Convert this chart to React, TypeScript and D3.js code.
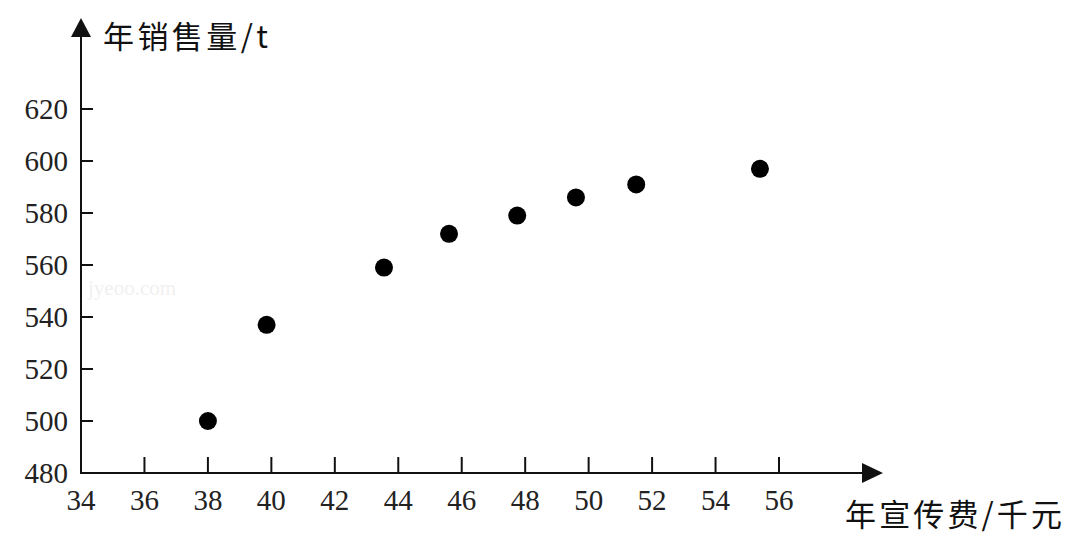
import React, { useEffect, useRef } from 'react';
import * as d3 from 'd3';

// values
const adCost = [38, 39.85, 43.55, 45.6, 47.75, 49.6, 51.5, 55.4];
const sales = [500, 537, 559, 572, 579, 586, 591, 597];
const xTicks = [34, 36, 38, 40, 42, 44, 46, 48, 50, 52, 54, 56];
const yTicks = [480, 500, 520, 540, 560, 580, 600, 620];
const xTitle = '年宣传费/千元';
const yTitle = '年销售量/t';

const App = () => {
  const svgRef = useRef<SVGSVGElement>(null);

  useEffect(() => {
    const width = 1084;
    const height = 545;
    const origin = { x: 81, y: 473 };

    const svg = d3.select(svgRef.current);
    svg.selectAll('*').remove();
    svg.attr('width', width).attr('height', height);

    svg.append('rect').attr('width', width).attr('height', height).attr('fill', '#fff');

    const x = d3.scaleLinear().domain([34, 56]).range([origin.x, 779]);
    const y = d3.scaleLinear().domain([480, 620]).range([origin.y, 109]);

    // faint watermark
    svg
      .append('text')
      .attr('x', 88)
      .attr('y', 295)
      .attr('font-family', '"Liberation Serif", serif')
      .attr('font-size', '21px')
      .attr('fill', '#f0f0f0')
      .text('jyeoo.com');

    const axisColor = '#111';

    // y axis line + arrow
    svg
      .append('line')
      .attr('x1', origin.x)
      .attr('x2', origin.x)
      .attr('y1', origin.y + 1)
      .attr('y2', 30)
      .attr('stroke', axisColor)
      .attr('stroke-width', 2);
    svg
      .append('path')
      .attr('d', `M${origin.x},18 L${origin.x - 10},37 L${origin.x + 10},37 Z`)
      .attr('fill', axisColor);

    // x axis line + arrow
    svg
      .append('line')
      .attr('x1', origin.x - 1)
      .attr('x2', 870)
      .attr('y1', origin.y)
      .attr('y2', origin.y)
      .attr('stroke', axisColor)
      .attr('stroke-width', 2);
    svg
      .append('path')
      .attr('d', `M883,${origin.y} L862,${origin.y - 10} L862,${origin.y + 10} Z`)
      .attr('fill', axisColor);

    // x ticks
    const xg = svg.append('g');
    xg.selectAll('line')
      .data(xTicks.filter((d) => d !== 34))
      .enter()
      .append('line')
      .attr('x1', (d) => x(d))
      .attr('x2', (d) => x(d))
      .attr('y1', origin.y)
      .attr('y2', origin.y - 16)
      .attr('stroke', axisColor)
      .attr('stroke-width', 2);
    xg.selectAll('text')
      .data(xTicks)
      .enter()
      .append('text')
      .attr('x', (d) => x(d))
      .attr('y', 510)
      .attr('text-anchor', 'middle')
      .attr('font-family', '"Liberation Serif", "Times New Roman", serif')
      .attr('font-size', '29px')
      .attr('fill', '#222')
      .text((d) => d);

    // y ticks
    const yg = svg.append('g');
    yg.selectAll('line')
      .data(yTicks.filter((d) => d !== 480))
      .enter()
      .append('line')
      .attr('x1', origin.x)
      .attr('x2', origin.x + 12)
      .attr('y1', (d) => y(d))
      .attr('y2', (d) => y(d))
      .attr('stroke', axisColor)
      .attr('stroke-width', 2);
    yg.selectAll('text')
      .data(yTicks)
      .enter()
      .append('text')
      .attr('x', 68)
      .attr('y', (d) => y(d) + 10)
      .attr('text-anchor', 'end')
      .attr('font-family', '"Liberation Serif", "Times New Roman", serif')
      .attr('font-size', '29px')
      .attr('fill', '#222')
      .text((d) => d);

    // axis titles
    svg
      .append('text')
      .attr('x', 103)
      .attr('y', 48)
      .attr('font-family', '"Noto Sans CJK SC", sans-serif')
      .attr('font-size', '31px')
      .attr('fill', '#111')
      .attr('textLength', 165)
      .attr('lengthAdjust', 'spacing')
      .text(yTitle);
    svg
      .append('text')
      .attr('x', 845)
      .attr('y', 526)
      .attr('font-family', '"Noto Sans CJK SC", sans-serif')
      .attr('font-size', '31px')
      .attr('fill', '#111')
      .attr('textLength', 217)
      .attr('lengthAdjust', 'spacing')
      .text(xTitle);

    // points
    svg
      .append('g')
      .selectAll('circle')
      .data(adCost.map((c, i) => ({ c, s: sales[i] })))
      .enter()
      .append('circle')
      .attr('cx', (d) => x(d.c))
      .attr('cy', (d) => y(d.s))
      .attr('r', 9)
      .attr('fill', '#000');
  }, []);

  return (
    <div style={{ position: 'fixed', left: 0, top: 0 }}>
      <svg ref={svgRef} style={{ display: 'block' }} />
    </div>
  );
};

export default App;
